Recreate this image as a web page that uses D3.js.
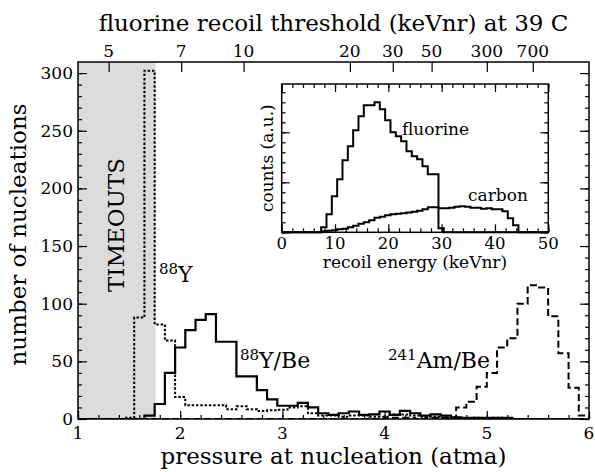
<!DOCTYPE html>
<html><head><meta charset="utf-8">
<script src="https://cdn.jsdelivr.net/npm/d3@7"></script>
<style>
body{margin:0;background:#fff}
svg{display:block}
text{font-family:"DejaVu Serif",serif;fill:#000}
</style>
</head><body>
<svg id="c" width="595" height="472"></svg>
<script>
// ---------- data ----------
const binWidth = 0.1;
const yBinStart = 1.05;   // first bin edge for the 88Y and 88Y/Be histograms (atma)
const amBinStart = 1.0;   // first bin edge for the 241Am/Be histogram (atma)
const y88 = [0,0,0,0,1,88,302,82,68,19,12,12,12,12,8.5,11,8.5,7,7.5,8,10,11,5,3,3,2,3,3,2,2,4,4,3,2,2,1,1,0,1,0,1,0,0,0,0,0,0,0,0];
const y88Be = [0,0,0,0,0,0,3,13,40,62,77,86,91,67,67,37,37,25,17,11.5,11.5,14,10,5,3.5,5,6.5,3.5,4,6.5,3.5,7,5,3,4,3,1.5,1,1,1,1,1,0,0,0,0,0,0,0];
const am241Be = [0,0,0,0,0,0,0,0,0,0,0,0,0,0,0,0,0,0,0,0,0,0,0,0,0,0,0,0,0,0,1,1,1,0,1,1,1,10,15,28,40,62,70,100,116,114,89,57,27,3];
const timeoutEnd = 1.76; // atma
const xTicks = [1,2,3,4,5,6];
const yTicks = [0,50,100,150,200,250,300];
const topTickLabels = ["5","7","10","20","30","50","300","700"];
const topTickPressures = [1.30,2.01,2.62,3.66,4.08,4.46,5.00,5.45];
// inset: recoil energy spectra (keVnr), 1 keV bins
const insetBinStart = 7.4, insetBinWidth = 1;
const fluorine = [0.5,1.8,3.6,5.3,7.2,8.6,10.2,11.6,12.7,12.7,13.0,12.3,11.2,10.0,9.6,9.1,8.1,7.6,7.3,6.6,5.8,5.8,0.4];
const carbon = [0.1,0.15,0.2,0.3,0.35,0.5,0.65,0.85,1.0,1.2,1.45,1.55,1.7,1.8,1.85,1.9,1.97,2.05,2.15,2.3,2.5,2.5,2.4,2.4,2.45,2.55,2.6,2.55,2.45,2.45,2.35,2.4,2.3,2.3,2.1,1.4,0.7];
const insetXTicks = [0,10,20,30,40,50];

// ---------- layout ----------
const svg = d3.select("#c");
const L = 78, R = 589, T = 62, B = 419;
const x = d3.scaleLinear().domain([1,6]).range([L,R]);
const y = d3.scaleLinear().domain([0,309.6]).range([B,T]);

svg.append("rect").attr("width",595).attr("height",472).attr("fill","#fff");
svg.append("defs").append("clipPath").attr("id","plotclip")
  .append("rect").attr("x",L).attr("y",T).attr("width",R-L).attr("height",B-T);

// timeouts region
svg.append("rect").attr("x",x(1)).attr("y",T).attr("width",x(timeoutEnd)-x(1)).attr("height",B-T)
  .attr("fill","#dcdcdc");
svg.append("text").attr("transform",`translate(${x(1)+46},225) rotate(-90)`)
  .attr("text-anchor","middle").style("font-size","23px").text("TIMEOUTS");

function histPoints(start, w, vals){
  const pts = [[start,0]];
  vals.forEach((v,i)=>pts.push([start+i*w, v]));
  pts.push([start+vals.length*w, 0]);
  return pts;
}
const line = d3.line().curve(d3.curveStepAfter).x(d=>x(d[0])).y(d=>y(d[1]));
const plot = svg.append("g").attr("clip-path","url(#plotclip)");
plot.append("path").attr("d",line(histPoints(amBinStart,binWidth,am241Be)))
  .attr("fill","none").attr("stroke","#000").attr("stroke-width",2).attr("stroke-dasharray","7,3.5");
plot.append("path").attr("d",line(histPoints(yBinStart,binWidth,y88)))
  .attr("fill","none").attr("stroke","#000").attr("stroke-width",2).attr("stroke-dasharray","2.5,1.8");
plot.append("path").attr("d",line(histPoints(yBinStart,binWidth,y88Be)))
  .attr("fill","none").attr("stroke","#000").attr("stroke-width",2.2);

// axes ticks
function clean(g){ g.select(".domain").remove(); g.selectAll("line").attr("stroke","#000").attr("stroke-width",1.2); }
const yMinor = d3.range(0,310,10);
const xMinor = d3.range(1,6.001,0.2);
svg.append("g").attr("transform",`translate(${L},0)`).call(d3.axisRight(y).tickValues(yMinor).tickSize(4).tickFormat("")).call(clean);
svg.append("g").attr("transform",`translate(${L},0)`).call(d3.axisRight(y).tickValues(yTicks).tickSize(9).tickFormat("")).call(clean);
svg.append("g").attr("transform",`translate(${R},0)`).call(d3.axisLeft(y).tickValues(yMinor).tickSize(4).tickFormat("")).call(clean);
svg.append("g").attr("transform",`translate(${R},0)`).call(d3.axisLeft(y).tickValues(yTicks).tickSize(9).tickFormat("")).call(clean);
svg.append("g").attr("transform",`translate(0,${B})`).call(d3.axisTop(x).tickValues(xMinor).tickSize(4).tickFormat("")).call(clean);
svg.append("g").attr("transform",`translate(0,${B})`).call(d3.axisTop(x).tickValues(xTicks).tickSize(8).tickFormat("")).call(clean);
svg.append("g").attr("transform",`translate(0,${T})`).call(d3.axisBottom(x).tickValues(topTickPressures).tickSize(10).tickFormat("")).call(clean);

// tick labels
const lab = svg.append("g").style("font-size","17px");
lab.selectAll(".yl").data(yTicks).join("text").attr("x",L-5).attr("y",d=>y(d)).attr("dy","0.36em")
  .attr("text-anchor","end").text(d=>d);
lab.selectAll(".xl").data(xTicks).join("text").attr("x",d=>x(d)).attr("y",B+20)
  .attr("text-anchor","middle").text(d=>d);
lab.selectAll(".tl").data(topTickPressures).join("text").attr("x",d=>x(d)).attr("y",T-5)
  .attr("text-anchor","middle").text((d,i)=>topTickLabels[i]);

// frame
svg.append("rect").attr("x",L).attr("y",T).attr("width",R-L).attr("height",B-T)
  .attr("fill","none").attr("stroke","#000").attr("stroke-width",1.5);

// axis titles
svg.append("text").attr("x",(L+R)/2).attr("y",31).attr("text-anchor","middle").style("font-size","23px")
  .text("fluorine recoil threshold (keVnr) at 39 C");
svg.append("text").attr("x",(L+R)/2).attr("y",464).attr("text-anchor","middle").style("font-size","23px")
  .text("pressure at nucleation (atma)");
svg.append("text").attr("transform",`translate(26,${(T+B)/2-6}) rotate(-90)`).attr("text-anchor","middle").style("font-size","23px")
  .text("number of nucleations");

// series labels
function isoLabel(xp, yp, sup, main){
  const t = svg.append("text").attr("x",xp).attr("y",yp).style("font-size","22px");
  t.append("tspan").attr("dy","-8").style("font-size","15px").text(sup);
  t.append("tspan").attr("dy","8").text(main);
}
isoLabel(159,282,"88","Y");
isoLabel(240,368,"88","Y/Be");
isoLabel(388,368,"241","Am/Be");

// ---------- inset ----------
const iL = 281.7, iR = 548.3, iT = 84, iB = 232.3;
const ix = d3.scaleLinear().domain([0,50]).range([iL,iR]);
const iy = d3.scaleLinear().domain([0,14.83]).range([iB,iT]);
svg.append("rect").attr("x",iL).attr("y",iT).attr("width",iR-iL).attr("height",iB-iT).attr("fill","#fff");
const iline = d3.line().curve(d3.curveStepAfter).x(d=>ix(d[0])).y(d=>iy(d[1]));
function insetPts(vals){
  const pts=[[0,0]];
  vals.forEach((v,i)=>pts.push([insetBinStart+i*insetBinWidth,v]));
  pts.push([insetBinStart+vals.length*insetBinWidth,0]);
  pts.push([50,0]);
  return pts;
}
svg.append("path").attr("d",iline(insetPts(carbon))).attr("fill","none").attr("stroke","#000").attr("stroke-width",2);
svg.append("path").attr("d",iline(insetPts(fluorine))).attr("fill","none").attr("stroke","#000").attr("stroke-width",2);
const ixMinor = d3.range(0,50.01,2), iyMinor = d3.range(0,14.9,1), iyMajor=[0,5,10];
svg.append("g").attr("transform",`translate(0,${iB})`).call(d3.axisTop(ix).tickValues(ixMinor).tickSize(4).tickFormat("")).call(clean);
svg.append("g").attr("transform",`translate(0,${iB})`).call(d3.axisTop(ix).tickValues(insetXTicks).tickSize(8).tickFormat("")).call(clean);
svg.append("g").attr("transform",`translate(0,${iT})`).call(d3.axisBottom(ix).tickValues(ixMinor).tickSize(4).tickFormat("")).call(clean);
svg.append("g").attr("transform",`translate(0,${iT})`).call(d3.axisBottom(ix).tickValues(insetXTicks).tickSize(8).tickFormat("")).call(clean);
svg.append("g").attr("transform",`translate(${iL},0)`).call(d3.axisRight(iy).tickValues(iyMinor).tickSize(4).tickFormat("")).call(clean);
svg.append("g").attr("transform",`translate(${iL},0)`).call(d3.axisRight(iy).tickValues(iyMajor).tickSize(8).tickFormat("")).call(clean);
svg.append("g").attr("transform",`translate(${iR},0)`).call(d3.axisLeft(iy).tickValues(iyMinor).tickSize(4).tickFormat("")).call(clean);
svg.append("g").attr("transform",`translate(${iR},0)`).call(d3.axisLeft(iy).tickValues(iyMajor).tickSize(8).tickFormat("")).call(clean);
svg.append("rect").attr("x",iL).attr("y",iT).attr("width",iR-iL).attr("height",iB-iT)
  .attr("fill","none").attr("stroke","#000").attr("stroke-width",1.5);
svg.append("g").style("font-size","16.5px").selectAll("text").data(insetXTicks).join("text")
  .attr("x",d=>ix(d)).attr("y",iB+17).attr("text-anchor","middle").text(d=>d);
svg.append("text").attr("x",(iL+iR)/2).attr("y",268).attr("text-anchor","middle").style("font-size","17px")
  .text("recoil energy (keVnr)");
svg.append("text").attr("transform",`translate(273,${(iT+iB)/2}) rotate(-90)`).attr("text-anchor","middle").style("font-size","17px")
  .text("counts (a.u.)");
svg.append("text").attr("x",402).attr("y",135).style("font-size","17px").text("fluorine");
svg.append("text").attr("x",468).attr("y",201).style("font-size","17px").text("carbon");
</script>
</body></html>
